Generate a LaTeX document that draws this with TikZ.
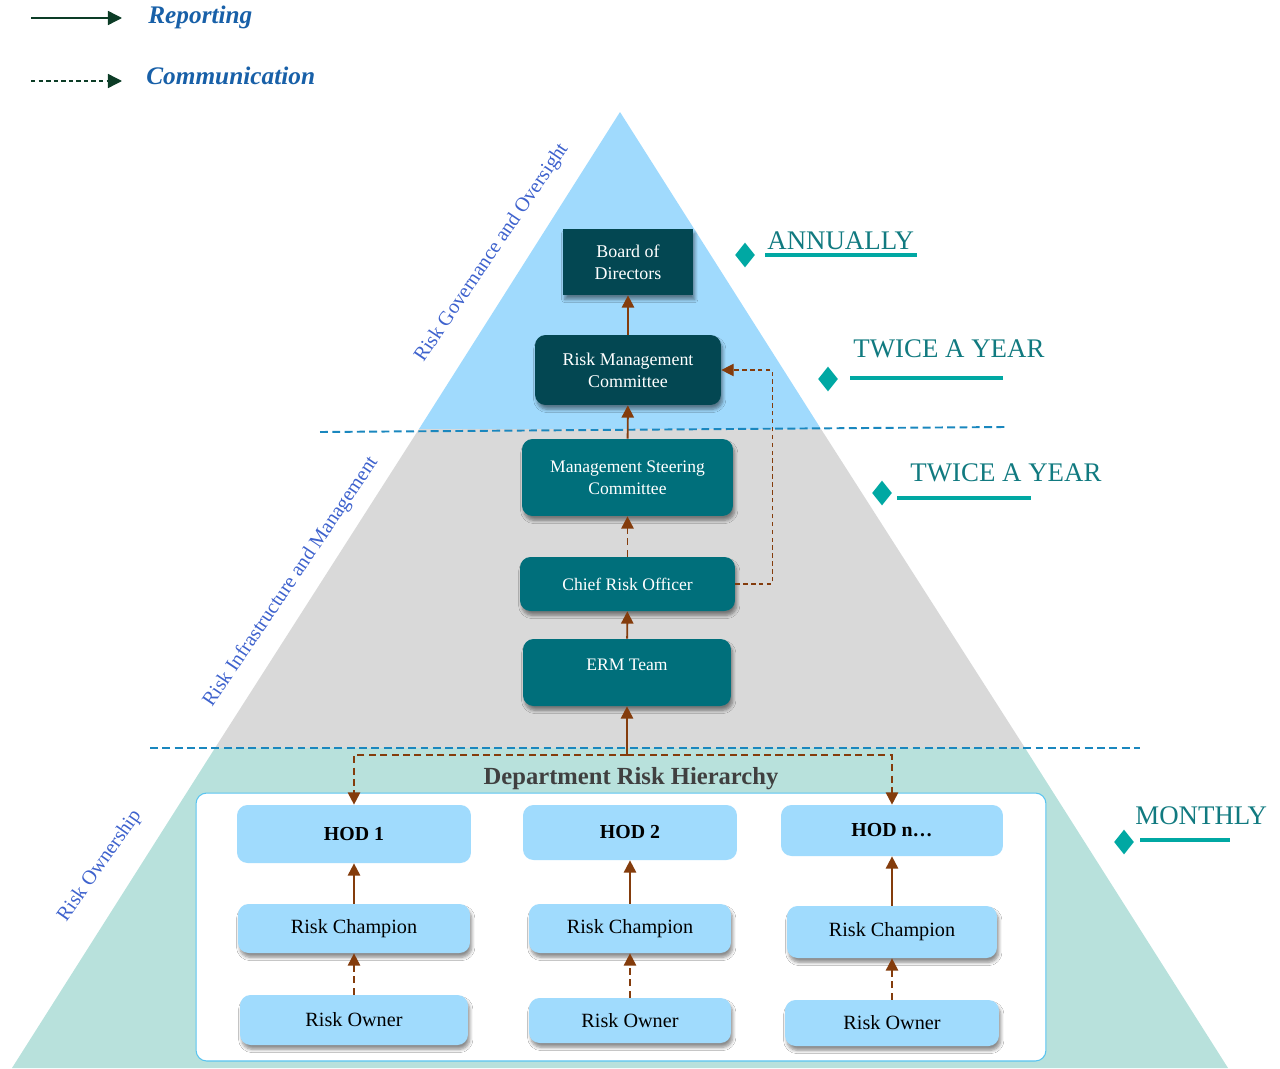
\documentclass[tikz,border=0pt]{standalone}
\usepackage{fontspec}
\setmainfont{Liberation Serif}
\usetikzlibrary{shapes,arrows,arrows.meta,positioning,calc,fit,backgrounds,shadows.blur}

\definecolor{boardteal}{RGB}{3,71,82}
\definecolor{midteal}{RGB}{0,111,123}
\definecolor{hodblue}{RGB}{160,219,253}
\definecolor{skytier}{RGB}{160,218,253}
\definecolor{greytier}{RGB}{217,217,217}
\definecolor{minttier}{RGB}{184,225,220}
\definecolor{linkbrown}{RGB}{132,60,12}
\definecolor{tierdash}{RGB}{26,135,190}
\definecolor{freqmark}{RGB}{0,168,163}
\definecolor{freqtext}{RGB}{17,122,128}
\definecolor{sideblue}{RGB}{62,98,205}
\definecolor{legendblue}{RGB}{24,96,168}
\definecolor{legendgreen}{RGB}{12,60,38}
\definecolor{titlegrey}{RGB}{64,64,64}
\definecolor{deptedge}{RGB}{90,196,240}

\tikzset{
    orgbox/.style={rectangle, inner sep=0pt, align=center,
        blur shadow={shadow xshift=1pt, shadow yshift=-2.5pt, shadow blur steps=6, shadow opacity=45}},
    topbox/.style={orgbox, fill=boardteal, text=white, font=\fontsize{10.2}{12.5}\selectfont},
    midbox/.style={orgbox, fill=midteal, rounded corners=6pt, text=white, font=\fontsize{10}{12.5}\selectfont},
    hodbox/.style={rectangle, inner sep=0pt, fill=hodblue, rounded corners=6pt, font=\fontsize{11.3}{13}\selectfont\bfseries},
    unitbox/.style={orgbox, fill=hodblue, rounded corners=6pt, font=\fontsize{11.5}{13}\selectfont},
    report/.style={draw=linkbrown, line width=1.1pt, -{Triangle[width=7pt,length=7pt]}},
    comm/.style={report, dash pattern=on 4pt off 2.5pt},
    commthin/.style={draw=linkbrown, line width=0.7pt, dash pattern=on 2.5pt off 2pt, -{Triangle[width=7pt,length=7pt]}},
    tierline/.style={draw=tierdash, line width=1.1pt, dash pattern=on 4.5pt off 2.5pt},
    sidelabel/.style={text=sideblue, font=\fontsize{11.5}{13}\selectfont, inner sep=0pt},
    freqdiamond/.style={diamond, fill=freqmark, inner sep=0pt, minimum width=0.4cm, minimum height=0.5cm},
    freqlabel/.style={text=freqtext, font=\fontsize{15.3}{18}\selectfont, inner sep=0pt, anchor=west},
    legendtext/.style={text=legendblue, font=\fontsize{14.4}{17}\selectfont\bfseries\itshape, inner sep=0pt, anchor=west},
    legendarrow/.style={draw=legendgreen, line width=0.8pt, -{Triangle[width=8pt,length=8pt]}}
}

\begin{document}
\begin{tikzpicture}[x=0.02cm, y=-0.02cm]
\useasboundingbox (0,0) rectangle (1280,1068);

% pyramid tiers
\fill[skytier] (620,112) -- (821,429) -- (419,429) -- cycle;
\fill[greytier] (419,429) -- (821,429) -- (1025,748) -- (215,748) -- cycle;
\fill[minttier] (215,748) -- (1025,748) -- (1228,1068) -- (12,1068) -- cycle;
\draw[tierline] (320,432) -- (1005,427);
\draw[tierline] (150,748) -- (1140,748);

% legend
\coordinate (repfrom) at (31,18);
\coordinate (repto) at (122,18);
\coordinate (comfrom) at (31,81);
\coordinate (comto) at (122,81);
\draw[legendarrow] (repfrom) -- (repto);
\draw[legendarrow, dash pattern=on 2.5pt off 1.8pt] (comfrom) -- (comto);
\node[legendtext] (reptext) at (148,17) {Reporting};
\node[legendtext] (comtext) at (146,76) {Communication};

% side labels
\node[sidelabel, rotate=56] (govlabel) at (492,253) {Risk Governance and Oversight};
\node[sidelabel, rotate=56] (infralabel) at (291,582) {Risk Infrastructure and Management};
\node[sidelabel, rotate=55] (ownlabel) at (100,866) {Risk Ownership};

% frequency markers
\foreach \name/\dx/\dy/\lx/\ly/\lend/\tx/\ty/\txt in {
    annual/745/255/765/255/917/767/241/ANNUALLY,
    rmctwice/828/379/850/378/1003/853/349/TWICE A YEAR,
    msctwice/882/493/897/498/1031/910/473/TWICE A YEAR,
    monthly/1124/842/1140/840/1230/1135/816/MONTHLY} {
    \node[freqdiamond] (\name mark) at (\dx,\dy) {};
    \node[freqlabel] (\name text) at (\tx,\ty) {\txt};
    \draw[freqmark, line width=2.2pt] (\lx,\ly) -- (\lend,\ly);
}

% governance and management chain
\node[topbox, minimum width=2.6cm, minimum height=1.32cm] (bod) at (628,262) {Board of\\Directors};
\node[topbox, rounded corners=6pt, minimum width=3.72cm, minimum height=1.4cm] (rmc) at (628,370) {Risk Management\\Committee};
\node[midbox, minimum width=4.22cm, minimum height=1.54cm] (msc) at (627.5,477.5) {Management Steering\\Committee};
\node[midbox, minimum width=4.3cm, minimum height=1.08cm] (cro) at (627.5,584) {Chief Risk Officer};
\node[midbox, minimum width=4.16cm, minimum height=1.34cm] (erm) at (627,672.5) {\raisebox{0.32cm}{ERM Team}};

% department hierarchy
\node[draw=deptedge, fill=white, rounded corners=6pt, line width=0.6pt,
      minimum width=17cm, minimum height=5.36cm] (dept) at (621,927) {};
\node[text=titlegrey, font=\fontsize{14}{16}\selectfont\bfseries] (depttitle) at (631,779) {Department Risk Hierarchy};

\node[hodbox, minimum width=4.68cm, minimum height=1.16cm] (hod1) at (354,834) {HOD 1};
\node[hodbox, minimum width=4.28cm, minimum height=1.1cm] (hod2) at (630,832.5) {HOD 2};
\node[hodbox, minimum width=4.44cm, minimum height=1.02cm] (hodn) at (892,830.5) {HOD n\ldots};

\node[unitbox, minimum width=4.64cm, minimum height=0.98cm] (champ1) at (354,928.5) {Risk Champion};
\node[unitbox, minimum width=4.04cm, minimum height=0.98cm] (champ2) at (630,928.5) {Risk Champion};
\node[unitbox, minimum width=4.2cm, minimum height=1.04cm] (champn) at (892,932) {Risk Champion};

\node[unitbox, minimum width=4.56cm, minimum height=1.0cm] (owner1) at (354,1020) {Risk Owner};
\node[unitbox, minimum width=4.04cm, minimum height=0.9cm] (owner2) at (630,1020.5) {Risk Owner};
\node[unitbox, minimum width=4.28cm, minimum height=0.92cm] (ownern) at (892,1023) {Risk Owner};

% reporting and communication lines
\draw[report] (rmc) -- (bod);
\draw[report] (msc) -- (rmc);
\draw[comm] (cro) -- (msc);
\draw[report] (erm) -- (cro);
\draw[commthin] (cro.east) -- ++(37,0) |- (rmc.east);

\coordinate (split) at (627,755);
\draw[report] (split) -- (erm);
\draw[comm] (split) -| (hod1);
\draw[comm] (split) -| (hodn);

\foreach \col in {1,2,n} {
    \draw[report] (champ\col) -- (hod\col);
    \draw[comm] (owner\col) -- (champ\col);
}
\end{tikzpicture}
\end{document}
